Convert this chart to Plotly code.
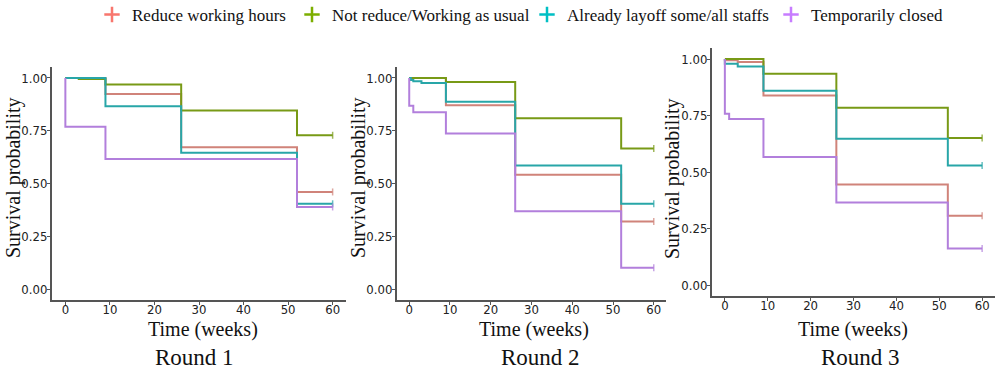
import plotly.graph_objects as go

groups = ["Reduce working hours", "Not reduce/Working as usual",
          "Already layoff some/all staffs", "Temporarily closed"]
line_colors = ["#d0837a", "#789a16", "#28a6a8", "#b27fdc"]
legend_colors = ["#F8766D", "#7CAE00", "#00BFC4", "#C77CFF"]
rounds = ["Round 1", "Round 2", "Round 3"]

# Round 1 (time in weeks, survival probability)
r1_reduce_t = [0, 9, 26, 52, 60]
r1_reduce_s = [1.0, 0.924, 0.672, 0.461, 0.461]
r1_notred_t = [0, 3, 9, 26, 52, 60]
r1_notred_s = [1.0, 0.995, 0.969, 0.846, 0.729, 0.729]
r1_layoff_t = [0, 9, 26, 52, 60]
r1_layoff_s = [1.0, 0.866, 0.646, 0.405, 0.405]
r1_closed_t = [0, 0, 9, 52, 60]
r1_closed_s = [1.0, 0.769, 0.617, 0.390, 0.390]

# Round 2
r2_reduce_t = [0, 9, 26, 52, 60]
r2_reduce_s = [1.0, 0.871, 0.542, 0.321, 0.321]
r2_notred_t = [0, 9, 26, 52, 60]
r2_notred_s = [1.0, 0.981, 0.809, 0.666, 0.666]
r2_layoff_t = [0, 0.4, 1, 3, 9, 26, 52, 60]
r2_layoff_s = [1.0, 0.990, 0.984, 0.976, 0.888, 0.586, 0.405, 0.405]
r2_closed_t = [0, 0, 1, 9, 26, 52, 60]
r2_closed_s = [1.0, 0.869, 0.838, 0.737, 0.370, 0.102, 0.102]

# Round 3
r3_reduce_t = [0, 0, 3, 9, 26, 52, 60]
r3_reduce_s = [1.0, 0.994, 0.987, 0.838, 0.445, 0.306, 0.306]
r3_notred_t = [0, 9, 26, 52, 60]
r3_notred_s = [1.0, 0.935, 0.784, 0.650, 0.650]
r3_layoff_t = [0, 0, 3, 9, 26, 52, 60]
r3_layoff_s = [1.0, 0.979, 0.967, 0.860, 0.647, 0.529, 0.529]
r3_closed_t = [0, 0, 1, 9, 26, 52, 60]
r3_closed_s = [1.0, 0.758, 0.734, 0.566, 0.365, 0.162, 0.162]

x_ticks = [0, 10, 20, 30, 40, 50, 60]
y_ticks = [0.0, 0.25, 0.5, 0.75, 1.0]
y_ticklabels = ["0.00", "0.25", "0.50", "0.75", "1.00"]

data = [
    [(r1_reduce_t, r1_reduce_s), (r1_notred_t, r1_notred_s),
     (r1_layoff_t, r1_layoff_s), (r1_closed_t, r1_closed_s)],
    [(r2_reduce_t, r2_reduce_s), (r2_notred_t, r2_notred_s),
     (r2_layoff_t, r2_layoff_s), (r2_closed_t, r2_closed_s)],
    [(r3_reduce_t, r3_reduce_s), (r3_notred_t, r3_notred_s),
     (r3_layoff_t, r3_layoff_s), (r3_closed_t, r3_closed_s)],
]

W, H = 996, 371
x_domains = [[52 / W, 346 / W], [397 / W, 666 / W], [712 / W, 995 / W]]
y_domains = [[1 - 300 / H, 1 - 67.4 / H], [1 - 300 / H, 1 - 67.4 / H],
             [1 - 296.3 / H, 1 - 47.7 / H]]
ytitle_pos = [(14, 178), (359, 178), (672, 179)]
xtitle_pos = [(203, 329), (534, 329), (853, 329)]
round_pos = [(194, 357), (540, 357), (860, 357)]
legend_sym_x = [111, 311, 546, 790]

SERIF = "Liberation Serif, Times New Roman, serif"
NARROW = "Liberation Sans Narrow, DejaVu Sans Condensed, Arial Narrow, sans-serif"
AXIS_COL = "#555555"

fig = go.Figure()

for p in range(3):
    xa = "x" if p == 0 else f"x{p+1}"
    ya = "y" if p == 0 else f"y{p+1}"
    for g in range(4):
        t, s = data[p][g]
        sizes = [0] * (len(t) - 1) + [5]
        fig.add_trace(go.Scatter(
            x=t, y=s, mode="lines+markers", line_shape="hv",
            line=dict(color=line_colors[g], width=2),
            marker=dict(symbol="line-ns", size=sizes,
                        line=dict(color=line_colors[g], width=1.5)),
            xaxis=xa, yaxis=ya, showlegend=False, hoverinfo="skip"))

# legend entries, one legend each so they can be placed like the original
for g in range(4):
    fig.add_trace(go.Scatter(
        x=[None], y=[None], mode="markers", name=groups[g],
        legend="legend" if g == 0 else f"legend{g+1}",
        marker=dict(symbol="cross-thin", size=11,
                    line=dict(color=legend_colors[g], width=2.5)),
        showlegend=True))

layout = dict(
    width=W, height=H,
    margin=dict(l=0, r=0, t=0, b=0, autoexpand=False),
    plot_bgcolor="white", paper_bgcolor="white",
    showlegend=True,
    annotations=[],
)
for g in range(4):
    key = "legend" if g == 0 else f"legend{g+1}"
    layout[key] = dict(orientation="h", x=(legend_sym_x[g] - 19) / W,
                       xanchor="left", y=1 - 15 / H, yanchor="middle",
                       font=dict(family=SERIF, size=17, color="#111"),
                       itemwidth=30, bgcolor="rgba(0,0,0,0)", borderwidth=0)

for p in range(3):
    xk = "xaxis" if p == 0 else f"xaxis{p+1}"
    yk = "yaxis" if p == 0 else f"yaxis{p+1}"
    layout[xk] = dict(
        domain=x_domains[p], range=[-3, 63], tickvals=x_ticks,
        showgrid=False, zeroline=False, showline=True, linecolor=AXIS_COL,
        linewidth=2, ticks="outside", ticklen=3, tickcolor=AXIS_COL,
        tickfont=dict(family=NARROW, size=13, color="#222"),
        ticklabelstandoff=-7,
        anchor="y" if p == 0 else f"y{p+1}", automargin=False)
    layout[yk] = dict(
        domain=y_domains[p], range=[-0.05, 1.05], tickvals=y_ticks,
        ticktext=y_ticklabels,
        showgrid=False, zeroline=False, showline=True, linecolor=AXIS_COL,
        linewidth=2, ticks="outside", ticklen=3, tickcolor=AXIS_COL,
        tickfont=dict(family=NARROW, size=13, color="#222"),
        ticklabelstandoff=-3,
        anchor="x" if p == 0 else f"x{p+1}", automargin=False)
    layout["annotations"].append(dict(
        text="Survival probability", x=ytitle_pos[p][0] / W,
        y=1 - ytitle_pos[p][1] / H, xref="paper", yref="paper",
        textangle=-90, showarrow=False, xanchor="center", yanchor="middle",
        font=dict(family=SERIF, size=20, color="#111")))
    layout["annotations"].append(dict(
        text="Time (weeks)", x=xtitle_pos[p][0] / W,
        y=1 - xtitle_pos[p][1] / H, xref="paper", yref="paper",
        showarrow=False, xanchor="center", yanchor="middle",
        font=dict(family=SERIF, size=20, color="#111")))
    layout["annotations"].append(dict(
        text=rounds[p], x=round_pos[p][0] / W, y=1 - round_pos[p][1] / H,
        xref="paper", yref="paper", showarrow=False, xanchor="center",
        yanchor="middle", font=dict(family=SERIF, size=23, color="#111")))

fig.update_layout(**layout)
fig.write_html("out.html", config={"displayModeBar": False},
               post_script="document.body.style.margin='0px';")
